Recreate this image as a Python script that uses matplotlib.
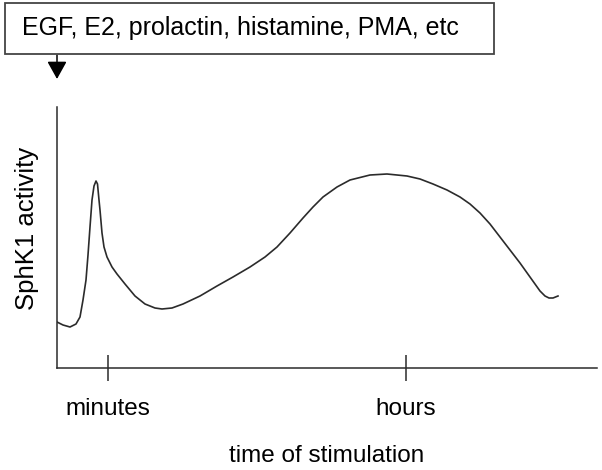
import matplotlib
matplotlib.use("Agg")
import matplotlib.pyplot as plt
from matplotlib.patches import Rectangle

plt.rcParams['font.family'] = ['Liberation Sans', 'DejaVu Sans']

# time (arbitrary units) and SphK1 activity (arbitrary units)
time_pts = [0, 6, 13, 19, 23, 26, 29, 31, 33, 35, 37, 39, 40.5, 42, 43, 45, 47,
            50, 55, 60, 68, 78, 88, 98, 105, 115, 126, 143, 160, 176, 193, 208,
            220, 233, 246, 256, 266, 280, 293, 313, 330, 350, 363, 376, 390, 403,
            413, 423, 433, 443, 453, 463, 473, 483, 488, 492, 496, 501]
activity = [46, 43, 41, 44, 51, 68, 88, 113, 141, 168, 182, 187, 184, 168, 158,
            135, 121, 111, 101, 94, 84, 72, 64, 60, 59, 60, 64, 72, 82, 91, 101,
            111, 121, 135, 150, 161, 171, 181, 188, 193, 194, 192, 189, 184, 178,
            171, 164, 155, 144, 131, 118, 105, 91, 77, 72, 70, 70, 72]
tick_pos = [51, 349]
tick_labels = ["minutes", "hours"]
stimuli = "EGF, E2, prolactin, histamine, PMA, etc"

W, H = 602, 470
fig = plt.figure(figsize=(W / 100, H / 100), dpi=100)
ax = fig.add_axes([57 / W, (H - 368) / H, (597 - 57) / W, (368 - 107) / H])

ink = "#2b2b2b"
ax.plot(time_pts, activity, color=ink, lw=1.2)
ax.set_xlim(0, 540)
ax.set_ylim(0, 261)

for s in ["top", "right"]:
    ax.spines[s].set_visible(False)
for s in ["left", "bottom"]:
    ax.spines[s].set_color(ink)
    ax.spines[s].set_linewidth(1.1)

ax.set_yticks([])
ax.set_xticks(tick_pos)
ax.set_xticklabels(tick_labels, fontsize=17.5)
ax.tick_params(axis="x", direction="inout", length=19, width=1.1, color=ink, pad=12)
ax.set_xlabel("time of stimulation", fontsize=17.5, labelpad=18)
ax.set_ylabel("SphK1 activity", fontsize=18.5)
ax.yaxis.set_label_coords(-0.034, 0.536)

# stimulus box and arrow at the top
fig.patches.append(Rectangle((5 / W, (H - 54) / H), (494 - 5) / W, (54 - 3) / H,
                             transform=fig.transFigure, fill=False,
                             edgecolor="#444444", lw=1.3))
fig.text(22 / W, (H - 28) / H, stimuli, fontsize=18, va="center", ha="left")
ax.annotate("", xy=(57 / W, (H - 79) / H), xytext=(57 / W, (H - 55) / H),
            xycoords="figure fraction", textcoords="figure fraction",
            arrowprops=dict(arrowstyle="-|>,head_length=1.08,head_width=0.6",
                            color="black", lw=1.1, mutation_scale=10,
                            shrinkA=0, shrinkB=0))

fig.savefig("out.png", dpi=100)
